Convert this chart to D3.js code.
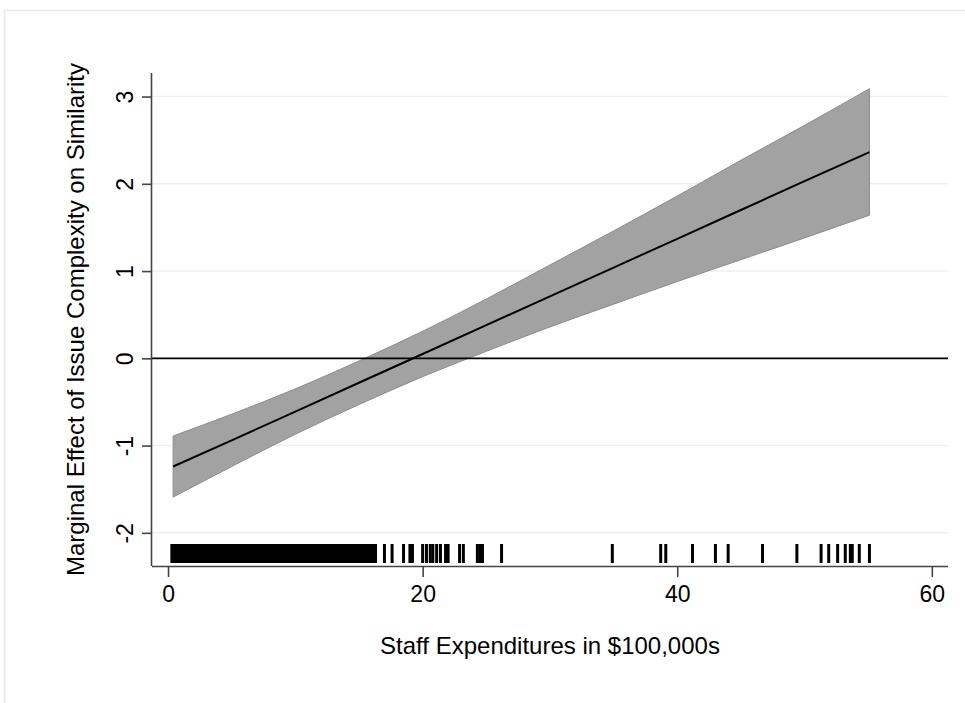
<!DOCTYPE html>
<html>
<head>
<meta charset="utf-8">
<script src="https://cdn.jsdelivr.net/npm/d3@7"></script>
<style>
  html, body { margin: 0; padding: 0; background: #fff; }
  svg { display: block; font-family: "Liberation Sans", Arial, sans-serif; }
</style>
</head>
<body>
<svg id="chart" width="965" height="703"></svg>
<script>
// Staff expenditures (in $100,000s) at which the marginal effect is evaluated
const xPoints = [0.4, 5, 10, 15, 20, 25, 30, 35, 40, 45, 50, 55.1];
// Marginal effect of issue complexity on similarity (point estimate)
const effect = [-1.24, -0.94, -0.61, -0.28, 0.05, 0.38, 0.71, 1.04, 1.37, 1.70, 2.03, 2.363];
// 95% confidence interval bounds
const upper = [-0.89, -0.64, -0.35, -0.03, 0.31, 0.68, 1.07, 1.46, 1.86, 2.27, 2.67, 3.09];
const lower = [-1.59, -1.24, -0.87, -0.53, -0.21, 0.08, 0.36, 0.62, 0.88, 1.13, 1.38, 1.64];

// Observed staff expenditures (rug)
const observed = [
  0.3, 0.45, 0.55, 0.7, 0.8, 0.95, 1.1, 1.2, 1.35, 1.5, 1.6, 1.75, 1.9, 2.0, 2.15, 2.3,
  2.4, 2.55, 2.7, 2.8, 2.95, 3.1, 3.2, 3.35, 3.5, 3.6, 3.75, 3.9, 4.0, 4.15, 4.3, 4.4,
  4.55, 4.7, 4.8, 4.95, 5.1, 5.2, 5.35, 5.5, 5.6, 5.75, 5.9, 6.0, 6.15, 6.3, 6.4, 6.55,
  6.7, 6.8, 6.95, 7.1, 7.2, 7.35, 7.5, 7.6, 7.75, 7.9, 8.0, 8.15, 8.3, 8.4, 8.55, 8.7,
  8.8, 8.95, 9.1, 9.2, 9.35, 9.5, 9.6, 9.75, 9.9, 10.0, 10.15, 10.3, 10.4, 10.55, 10.7,
  10.8, 10.95, 11.1, 11.2, 11.35, 11.5, 11.6, 11.75, 11.9, 12.0, 12.15, 12.3, 12.4, 12.55,
  12.7, 12.8, 12.95, 13.1, 13.2, 13.35, 13.5, 13.6, 13.75, 13.9, 14.0, 14.15, 14.3, 14.4,
  14.55, 14.7, 14.8, 14.95, 15.1, 15.2, 15.35, 15.5, 15.6, 15.75, 15.9, 16.0, 16.15, 16.3,
  17.0, 17.6, 18.5, 19.0, 19.2, 20.0, 20.3, 20.6, 20.8, 21.1, 21.4, 21.8, 22.0, 22.9, 23.2,
  24.3, 24.5, 24.7, 26.2, 34.9, 38.7, 39.1, 41.2, 43.0, 44.0, 46.7, 49.4, 51.3, 51.9,
  52.6, 53.2, 53.6, 53.75, 54.3, 55.1
];

const xTicks = [0, 20, 40, 60];
const yTicks = [-2, -1, 0, 1, 2, 3];
const xTitle = "Staff Expenditures in $100,000s";
const yTitle = "Marginal Effect of Issue Complexity on Similarity";

const svg = d3.select("#chart");
const fontFamily = "'Liberation Sans', Arial, sans-serif";
const labelSize = 23;

// Faint outer frame of the graph region
svg.append("rect")
  .attr("x", 4.5).attr("y", 10.5)
  .attr("width", 1000).attr("height", 800)
  .attr("fill", "none").attr("stroke", "#e3ebeb").attr("stroke-width", 1.5);

const plotLeft = 152, plotRight = 948, plotTop = 73, plotBottom = 566;

const x = d3.scaleLinear().domain([-1.26, 61.27]).range([plotLeft, plotRight]);
const y = d3.scaleLinear().domain([-2.38, 3.27]).range([plotBottom, plotTop]);

const g = svg.append("g");

// Horizontal gridlines
g.selectAll(".grid").data(yTicks).join("line")
  .attr("x1", plotLeft).attr("x2", plotRight)
  .attr("y1", d => y(d)).attr("y2", d => y(d))
  .attr("stroke", "#eaf1f3").attr("stroke-width", 1.5);

const pts = xPoints.map((v, i) => ({ x: v, m: effect[i], u: upper[i], l: lower[i] }));

// Confidence band
g.append("path").datum(pts)
  .attr("d", d3.area().x(d => x(d.x)).y0(d => y(d.l)).y1(d => y(d.u)).curve(d3.curveMonotoneX))
  .attr("fill", "#a2a2a2").attr("stroke", "#8c8c8c").attr("stroke-width", 1);

// Zero reference line
g.append("line")
  .attr("x1", plotLeft).attr("x2", plotRight)
  .attr("y1", y(0)).attr("y2", y(0))
  .attr("stroke", "#000").attr("stroke-width", 1.6);

// Point estimate
g.append("path").datum(pts)
  .attr("d", d3.line().x(d => x(d.x)).y(d => y(d.m)))
  .attr("fill", "none").attr("stroke", "#000").attr("stroke-width", 2);

// Rug of observed values
g.selectAll(".rug").data(observed).join("line")
  .attr("x1", d => x(d)).attr("x2", d => x(d))
  .attr("y1", plotBottom - 22).attr("y2", plotBottom - 3)
  .attr("stroke", "#000").attr("stroke-width", 3);

// Axes
const fmt = d => d3.format("d")(d).replace("\u2212", "-");
const xAxis = d3.axisBottom(x).tickValues(xTicks).tickFormat(fmt).tickSize(11).tickPadding(9);
const yAxis = d3.axisLeft(y).tickValues(yTicks).tickFormat(fmt).tickSize(10);

const gx = svg.append("g").attr("transform", `translate(0,${plotBottom})`).call(xAxis);
gx.attr("font-size", labelSize).attr("font-family", fontFamily);
gx.select(".domain").attr("d", `M${plotLeft},0.5H${plotRight}`).attr("stroke", "#444").attr("stroke-width", 1.6);
gx.selectAll(".tick line").attr("stroke", "#444").attr("stroke-width", 1.6);
gx.selectAll(".tick text").attr("fill", "#000");

const gy = svg.append("g").attr("transform", `translate(${plotLeft},0)`).call(yAxis);
gy.attr("font-size", labelSize).attr("font-family", fontFamily);
gy.select(".domain").attr("d", `M-0.5,${plotTop}V${plotBottom}`).attr("stroke", "#444").attr("stroke-width", 1.6);
gy.selectAll(".tick line").attr("stroke", "#444").attr("stroke-width", 1.6);
gy.selectAll(".tick text")
  .attr("fill", "#000")
  .attr("text-anchor", "middle")
  .attr("x", null).attr("dy", null)
  .attr("transform", "translate(-27,0) rotate(-90)")
  .attr("dominant-baseline", "central");

// Axis titles
svg.append("text")
  .attr("x", (plotLeft + plotRight) / 2).attr("y", 654)
  .attr("text-anchor", "middle").attr("font-size", 24).attr("fill", "#000")
  .attr("font-family", fontFamily)
  .text(xTitle);

svg.append("text")
  .attr("transform", `translate(84,${(plotTop + plotBottom) / 2}) rotate(-90)`)
  .attr("text-anchor", "middle").attr("font-size", 24).attr("fill", "#000")
  .attr("font-family", fontFamily)
  .text(yTitle);
</script>
</body>
</html>
